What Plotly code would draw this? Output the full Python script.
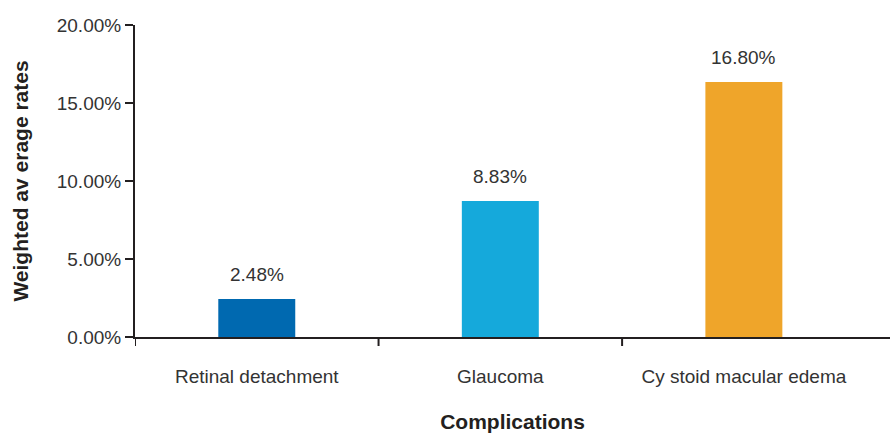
import plotly.graph_objects as go

categories = ["Retinal detachment", "Glaucoma", "Cy stoid macular edema"]
values = [2.44, 8.72, 16.35]
labels = ["2.48%", "8.83%", "16.80%"]
colors = ["#0069B0", "#15A9DB", "#EFA52A"]
y_ticks = [0, 5, 10, 15, 20]
y_tick_text = ["0.00%", "5.00%", "10.00%", "15.00%", "20.00%"]

fig = go.Figure()
fig.add_trace(go.Bar(
    x=categories, y=values, marker=dict(color=colors, line=dict(width=0)),
    width=0.316, hoverinfo="skip",
))
for c, v, t in zip(categories, values, labels):
    fig.add_annotation(x=c, y=v, text=t, showarrow=False, yanchor="bottom",
                       yshift=12, font=dict(size=19, color="#333333"))

# category boundary ticks (only the inner ones plus the origin, as in the reference)
for xb in [-0.5, 0.5, 1.5]:
    fig.add_shape(type="line", xref="x", yref="paper", x0=xb, x1=xb,
                  ysizemode="pixel", yanchor=0, y0=0, y1=-9,
                  line=dict(color="#231F20", width=2))

fig.update_layout(
    width=890, height=433,
    margin=dict(l=135, r=0, t=25, b=96),
    paper_bgcolor="white", plot_bgcolor="white",
    font=dict(family="Liberation Sans, Arial, sans-serif", size=19, color="#333333"),
    showlegend=False,
    xaxis=dict(
        range=[-0.5, 2.6], showline=True, linecolor="#231F20", linewidth=2,
        ticks="", showgrid=False, tickfont=dict(size=19, color="#333333"), ticklabelstandoff=21,
        automargin=False,
        title=dict(text="<b>Complications</b>", font=dict(size=21, color="#231F20"), standoff=34),
    ),
    yaxis=dict(
        range=[0, 20], tickvals=y_ticks, ticktext=y_tick_text,
        showline=True, linecolor="#231F20", linewidth=2,
        ticks="outside", ticklen=8, tickcolor="#231F20", tickwidth=2,
        showgrid=False, zeroline=False, tickfont=dict(size=19, color="#333333"),
        automargin=False,
        title=dict(text="<b>Weighted av erage rates</b>", font=dict(size=21, color="#231F20"), standoff=22),
    ),
)
fig.write_html("out.html")
